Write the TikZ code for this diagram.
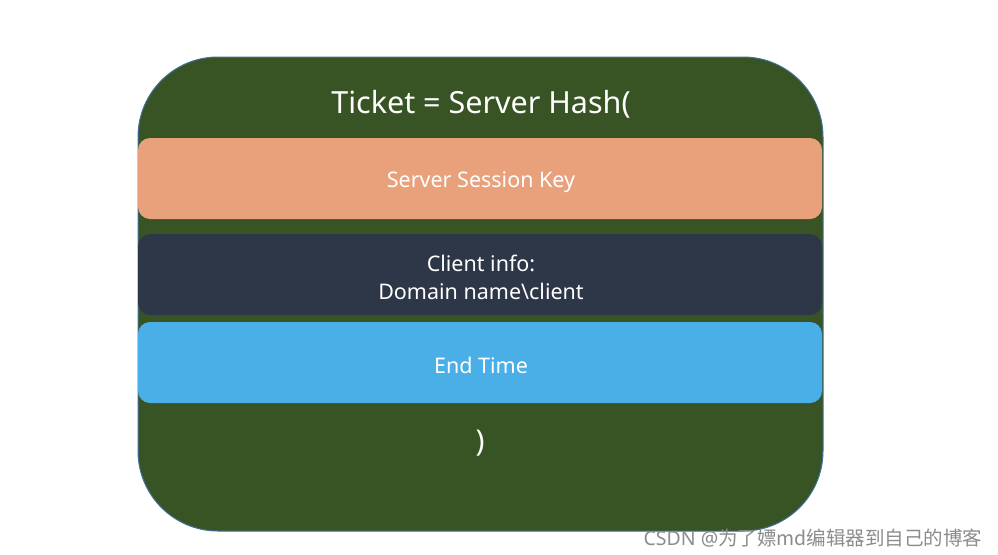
\documentclass[tikz,border=0pt]{standalone}
\usepackage{fontspec}
\setmainfont{Noto Sans}
\newfontfamily\cjk{Noto Sans CJK SC}
\definecolor{ticketgreen}{HTML}{385424}
\definecolor{ticketedge}{HTML}{41719C}
\definecolor{keyorange}{HTML}{E9A17C}
\definecolor{infoslate}{HTML}{2E3748}
\definecolor{timeblue}{HTML}{4BAFE7}
\begin{document}
\begin{tikzpicture}[x=1pt,y=-1pt,
  field/.style={rounded corners=12pt, draw=none},
  fieldtext/.style={text=white, font=\fontsize{21.5}{28}\selectfont, align=center}]
\useasboundingbox (0,0) rectangle (998,554);
\fill[white] (0,0) rectangle (998,554);
% outer ticket container
\draw[fill=ticketgreen, draw=ticketedge, line width=1pt, rounded corners=80pt]
  (138,57) rectangle (823,531);
\node[text=white, font=\fontsize{30.5}{36}\selectfont] (title) at (481,104) {Ticket = Server Hash(};
% fields
\fill[field, fill=keyorange] (138,138) rectangle (822,219);
\node[fieldtext] (key) at (481,182) {Server Session Key};
\fill[field, fill=infoslate] (138,234) rectangle (822,315);
\node[fieldtext] (info) at (481,277) {Client info:\\Domain name\textbackslash client};
\fill[field, fill=timeblue] (138,322) rectangle (822,403);
\node[fieldtext] (time) at (481,365) {End Time};
\node[text=white, font=\fontsize{30}{36}\selectfont] (close) at (480,443) {)};
% footer mark
\node[anchor=east, text=black!45, font=\fontsize{19.5}{22}\selectfont] (mark) at (986,538) {CSDN @{\cjk 为了嫖md编辑器到自己的博客}};
\end{tikzpicture}
\end{document}
